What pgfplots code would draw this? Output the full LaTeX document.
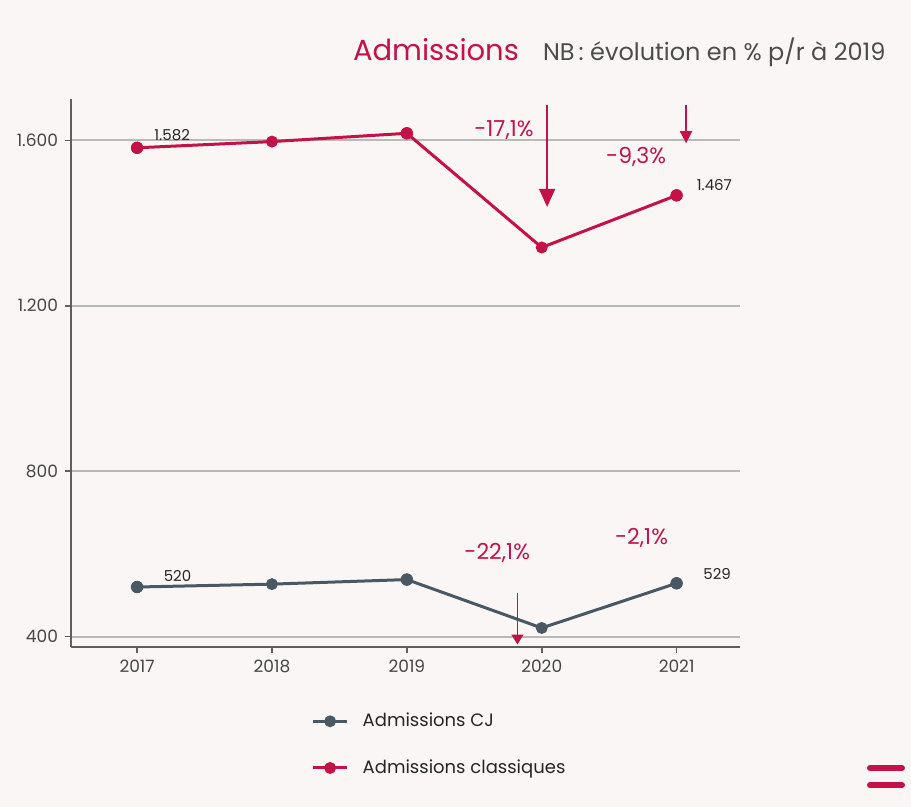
\documentclass[border=0pt]{standalone}
\usepackage{fontspec}
\setmainfont{Poppins}
\usepackage{pgfplots}
\pgfplotsset{compat=1.18}
\usetikzlibrary{arrows.meta}
\definecolor{crim}{RGB}{196,18,72}
\definecolor{slate}{RGB}{74,88,100}
\definecolor{gridc}{RGB}{185,185,185}
\definecolor{axc}{RGB}{95,95,95}
\definecolor{txt}{RGB}{70,70,70}
\definecolor{bg}{RGB}{251,246,246}
\begin{document}
\begin{tikzpicture}
\fill[bg] (0,0) rectangle (455.5pt,403.5pt);
\begin{axis}[
  at={(35.5pt,80pt)}, anchor=south west, scale only axis,
  width=334.5pt, height=274pt,
  xmin=2016.51, xmax=2021.47, ymin=375, ymax=1700,
  axis x line*=bottom, axis y line*=left,
  axis line style={axc, line width=1pt, -},
  xtick={2017,2018,2019,2020,2021},
  xticklabels={2017,2018,2019,2020,2021},
  ytick={400,800,1200,1600},
  yticklabel style={/pgf/number format/1000 sep={.}},
  /pgf/number format/assume math mode=true,
  ymajorgrids, grid style={gridc, line width=1pt},
  tick align=outside, major tick length=3pt,
  tick style={axc, line width=0.8pt},
  ticklabel style={font=\fontsize{8.5}{10}\selectfont, text=txt},
  clip=false,
  legend style={at={(0.35,-0.105)}, anchor=north west, draw=none, fill=none,
    font=\fontsize{9}{11}\selectfont, row sep=11pt, column sep=5pt, text=black!85},
  legend cell align=left,
]
\addplot[slate, line width=1.5pt, mark=*, mark size=2.2pt, mark options={fill=slate, draw=slate}]
  coordinates {(2017,520) (2018,527) (2019,538) (2020,421) (2021,529)};
\addlegendentry{Admissions CJ}
\addplot[crim, line width=1.5pt, mark=*, mark size=2.2pt, mark options={fill=crim, draw=crim}]
  coordinates {(2017,1582) (2018,1597) (2019,1617) (2020,1341) (2021,1467)};
\addlegendentry{Admissions classiques}
\addplot[forget plot, only marks, mark=*, mark size=2.9pt, slate]
  coordinates {(2017,520) (2019,538) (2021,529)};
\addplot[forget plot, only marks, mark=*, mark size=2.9pt, crim]
  coordinates {(2017,1582) (2019,1617) (2021,1467)};
% data labels
\node[font=\fontsize{7.5}{9}\selectfont, text=black!85] at (axis cs:2017.26,1612) {1.582};
\node[font=\fontsize{7.5}{9}\selectfont, text=black!85] at (axis cs:2021.28,1491) {1.467};
\node[font=\fontsize{7.5}{9}\selectfont, text=black!85] at (axis cs:2017.3,547) {520};
\node[font=\fontsize{7.5}{9}\selectfont, text=black!85] at (axis cs:2021.3,552) {529};
% percentage labels
\node[font=\fontsize{11}{13}\selectfont, text=crim] at (axis cs:2019.72,1624) {-17,1\%};
\node[font=\fontsize{11}{13}\selectfont, text=crim] at (axis cs:2020.7,1559) {-9,3\%};
\node[font=\fontsize{11}{13}\selectfont, text=crim] at (axis cs:2019.67,603) {-22,1\%};
\node[font=\fontsize{11}{13}\selectfont, text=crim] at (axis cs:2020.74,639) {-2,1\%};
% arrows
\draw[crim, line width=0.8pt, -{Triangle[width=8pt,length=9pt]}] (axis cs:2020.04,1685) -- (axis cs:2020.04,1439);
\draw[crim, line width=0.8pt, -{Triangle[width=6pt,length=6pt]}] (axis cs:2021.07,1685) -- (axis cs:2021.07,1593);
\draw[crim, line width=0.8pt, -{Triangle[width=6pt,length=5pt]}] (axis cs:2019.82,506) -- (axis cs:2019.82,381);
\end{axis}
\node[font=\fontsize{14.5}{16}\selectfont, text=crim] at (218pt,378.5pt) {Admissions};
\node[font=\fontsize{12}{14}\selectfont, text=black!70, anchor=west] at (268pt,377.5pt) {NB\,: évolution en \% p/r à 2019};
\draw[crim, line width=3pt, line cap=round] (435pt,19.5pt) -- (451pt,19.5pt);
\draw[crim, line width=3pt, line cap=round] (435pt,11pt) -- (451pt,11pt);
\end{tikzpicture}
\end{document}
